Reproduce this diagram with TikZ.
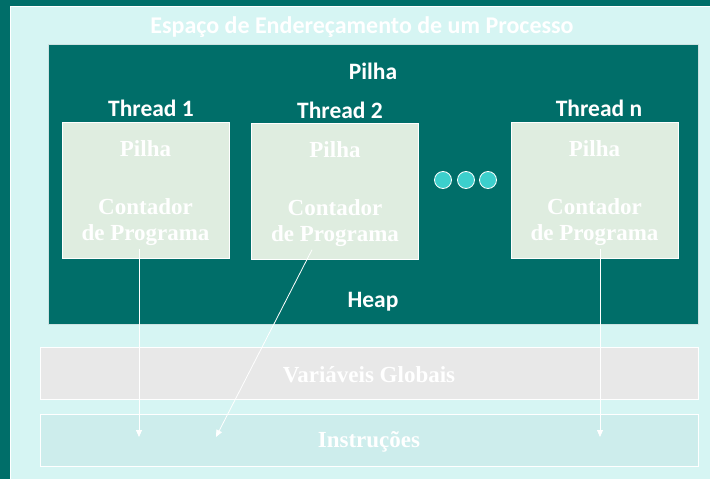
\documentclass[tikz,border=0pt]{standalone}
\usepackage{fontspec}
\setmainfont{Liberation Serif}
\newfontfamily\hdfont{Carlito}
\usetikzlibrary{arrows.meta}
\definecolor{darkteal}{HTML}{006E69}
\definecolor{lightcyan}{HTML}{D6F5F3}
\definecolor{threadfill}{HTML}{DFEDE0}
\definecolor{globfill}{HTML}{E8E8E8}
\definecolor{instfill}{HTML}{CDEDEC}
\definecolor{dotfill}{HTML}{3CCFCC}
\tikzset{
  hd/.style={text=white, font=\hdfont\bfseries\fontsize{23.5}{26}\selectfont, inner sep=0pt},
  tbox/.style={draw=white, line width=1pt, fill=threadfill, minimum width=167pt, minimum height=136pt, inner sep=0pt},
  wide/.style={draw=white, line width=1pt, minimum width=658pt, minimum height=52pt, inner sep=0pt},
  sertxt/.style={text=white, font=\bfseries\fontsize{23}{26}\selectfont, inner sep=0pt, align=center},
  dotc/.style={circle, draw=white, line width=0.8pt, fill=dotfill, minimum size=17pt, inner sep=0pt},
  arr/.style={draw=white, line width=0.8pt, -{Triangle[width=6pt,length=7pt]}}
}
\begin{document}
\begin{tikzpicture}[x=1pt,y=-1pt]
\useasboundingbox (0,0) rectangle (710,479);
\fill[darkteal] (0,0) rectangle (710,479);
\begin{scope}
\clip (0,0) rectangle (710,479);
\draw[white, line width=1pt, fill=lightcyan] (10,6) rectangle (720,490);
\end{scope}
\node[hd, font=\hdfont\bfseries\fontsize{24}{26}\selectfont] (title) at (362,27) {Espaço de Endereçamento de um Processo};
\node[draw=white!80!darkteal, line width=0.8pt, fill=darkteal, minimum width=650pt, minimum height=280pt, inner sep=0pt] (proc) at (373,184) {};
\node[hd] (pilha) at (373,71) {Pilha};
\node[hd] (heap) at (373,302) {Heap};
\node[tbox] (t1) at (145.5,190) {};
\node[tbox] (t2) at (335,191) {};
\node[tbox] (tn) at (594.5,190) {};
\node[hd] (l1) at (151,108) {Thread 1};
\node[hd] (l2) at (340,110) {Thread 2};
\node[hd] (ln) at (599,108) {Thread n};
\foreach \t/\x/\y in {1/145.5/0,2/335/1,n/594.5/0}{
  \node[sertxt] (s\t) at (\x,149+\y) {Pilha};
  \node[sertxt] (c\t) at (\x,207+\y) {Contador};
  \node[sertxt] (p\t) at (\x,235+\y) {de Programa};
}
\node[dotc] (d1) at (443,180) {};
\node[dotc] (d2) at (466,180) {};
\node[dotc] (d3) at (488,180) {};
\node[wide, fill=globfill] (glob) at (369,373) {};
\node[sertxt] (globt) at (369,375) {Variáveis Globais};
\node[wide, fill=instfill] (inst) at (369,440.5) {};
\node[sertxt] (instt) at (369,442) {Instruções};
\coordinate (e1) at (139,437);
\coordinate (e2) at (216,437);
\coordinate (en) at (600,437);
\draw[arr] ([xshift=-6.5pt,yshift=-3pt]p1.south) -- (e1);
\draw[arr] ([xshift=-23pt,yshift=-3pt]p2.south) -- (e2);
\draw[arr] ([xshift=5.5pt,yshift=-3pt]pn.south) -- (en);
\end{tikzpicture}
\end{document}
